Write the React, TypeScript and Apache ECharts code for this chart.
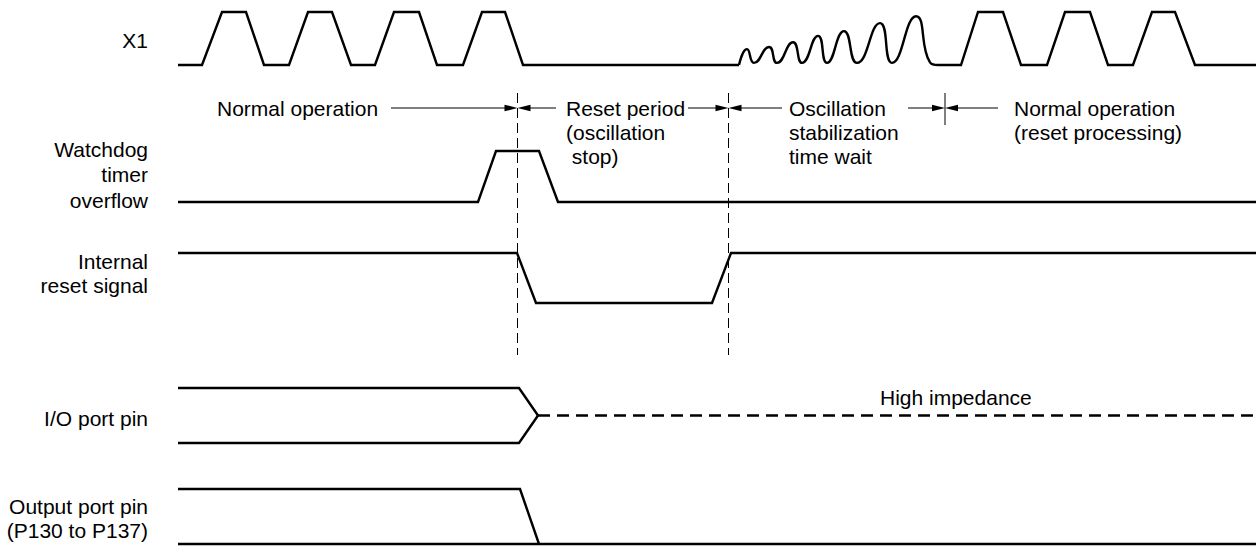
import React, { useEffect, useRef } from "react";
import * as echarts from "echarts";

// ---------- data (time units along the horizontal axis, logic levels 0..1) ----------
const timeMin = 0;
const timeMax = 1256;

// X1 clock: before the reset, the oscillation start-up, and after stabilization
const x1BeforeT = [178, 202, 222, 246, 264, 289, 308, 332, 351, 375, 394, 419, 437, 463, 482, 505, 523, 739];
const x1BeforeL = [0, 0, 1, 1, 0, 0, 1, 1, 0, 0, 1, 1, 0, 0, 1, 1, 0, 0];
const x1OscT = [739, 747, 754, 769, 777, 793, 802, 818, 827, 844, 857, 880, 892, 916, 930, 938];
const x1OscL = [0, 0.3, 0.04, 0.34, 0.04, 0.43, 0.04, 0.55, 0.04, 0.64, 0.04, 0.79, 0.04, 0.92, 0.05, 0];
const x1AfterT = [938, 961, 978, 1003, 1021, 1047, 1065, 1090, 1108, 1133, 1152, 1175, 1195, 1256];
const x1AfterL = [0, 0, 1, 1, 0, 0, 1, 1, 0, 0, 1, 1, 0, 0];

// Watchdog timer overflow
const wdtT = [178, 478, 496, 539, 558, 1256];
const wdtL = [0, 0, 1, 1, 0, 0];

// Internal reset signal
const rstT = [178, 517, 536, 712, 731, 1256];
const rstL = [1, 1, 0, 0, 1, 1];

// I/O port pin (two rails converging into high impedance)
const ioUpperT = [178, 519, 538];
const ioUpperL = [1, 1, 0.5];
const ioLowerT = [178, 519, 538];
const ioLowerL = [0, 0, 0.5];
const ioHighZT = [538, 1256];
const ioHighZL = [0.5, 0.5];

// Output port pin
const outHighT = [178, 520, 539];
const outHighL = [1, 1, 0];
const outLowT = [178, 1256];
const outLowL = [0, 0];

// phase boundaries and arrows
const boundaryT = [517.5, 728.5];
const stepMarkT = [945];
const arrowFromT = [391, 556, 688, 782, 908, 998];
const arrowToT = [517.5, 517.5, 728.5, 728.5, 945, 945];

// texts
const laneLabels = [
  "X1",
  "Watchdog\ntimer\noverflow",
  "Internal\nreset signal",
  "I/O port pin",
  "Output port pin\n(P130 to P137)",
];
const phaseLabels = [
  "Normal operation",
  "Reset period\n(oscillation\n stop)",
  "Oscillation\nstabilization\ntime wait",
  "Normal operation\n(reset processing)",
];
const highZLabel = "High impedance";

// ---------- layout ----------
const W = 1256;
const H = 548;
const lanes = [
  { top: 12, height: 53 },
  { top: 151, height: 51 },
  { top: 253, height: 50 },
  { top: 388, height: 55 },
  { top: 489, height: 55 },
];
const laneLabelX = 148;
const laneLabelY = [40, 174.5, 273, 418, 518];
const laneLabelLH = [24, 25.5, 24, 24, 24];
const phaseLabelX = [217, 566, 789, 1014];
const phaseFirstLineY = 108;
const arrowY = 108;
const boundaryTop = 93;
const boundaryBottom = 355;
const stepMarkTop = 93;
const stepMarkBottom = 125;
const highZX = 880;
const highZY = 397;

const INK = "#000";
const FONT = "'Liberation Sans', Arial, Helvetica, sans-serif";
const WAVE_W = 2.4;

const zip = (t: number[], l: number[]) => t.map((v, i) => [v, l[i]]);

export default function App() {
  const ref = useRef<HTMLDivElement>(null);

  useEffect(() => {
    if (!ref.current) return;
    const chart = echarts.init(ref.current, undefined, { renderer: "svg", width: W, height: H });

    const grids: any[] = lanes.map((g) => ({
      left: 0,
      width: W,
      top: g.top,
      height: g.height,
      containLabel: false,
      outerBoundsMode: "none",
    }));
    grids.push({ left: 0, width: W, top: 0, height: H, containLabel: false, outerBoundsMode: "none" });

    const xAxes = grids.map((_, i) => ({
      type: "value",
      gridIndex: i,
      min: timeMin,
      max: timeMax,
      show: false,
    }));
    const yAxes: any[] = lanes.map((_, i) => ({ type: "value", gridIndex: i, min: 0, max: 1, show: false }));
    yAxes.push({ type: "value", gridIndex: 5, min: 0, max: H, inverse: true, show: false });

    const wave = (lane: number, data: number[][], extra: any = {}) => ({
      type: "line",
      xAxisIndex: lane,
      yAxisIndex: lane,
      data,
      showSymbol: false,
      symbol: "none",
      clip: false,
      silent: true,
      lineStyle: { color: INK, width: WAVE_W, join: "miter", cap: "butt" },
      ...extra,
    });

    const series: any[] = [
      wave(0, zip(x1BeforeT, x1BeforeL)),
      wave(0, zip(x1OscT, x1OscL), { smooth: 0.55, lineStyle: { color: INK, width: WAVE_W } }),
      wave(0, zip(x1AfterT, x1AfterL)),
      wave(1, zip(wdtT, wdtL)),
      wave(2, zip(rstT, rstL)),
      wave(3, zip(ioUpperT, ioUpperL)),
      wave(3, zip(ioLowerT, ioLowerL)),
      wave(3, zip(ioHighZT, ioHighZL), {
        lineStyle: { color: INK, width: WAVE_W, type: [12, 7] },
      }),
      wave(4, zip(outHighT, outHighL)),
      wave(4, zip(outLowT, outLowL)),
    ];

    boundaryT.forEach((t) => {
      series.push({
        type: "line",
        xAxisIndex: 5,
        yAxisIndex: 5,
        data: [
          [t, boundaryTop],
          [t, boundaryBottom],
        ],
        showSymbol: false,
        symbol: "none",
        clip: false,
        silent: true,
        lineStyle: { color: INK, width: 1, type: [10, 5] },
      });
    });
    stepMarkT.forEach((t) => {
      series.push({
        type: "line",
        xAxisIndex: 5,
        yAxisIndex: 5,
        data: [
          [t, stepMarkTop],
          [t, stepMarkBottom],
        ],
        showSymbol: false,
        symbol: "none",
        clip: false,
        silent: true,
        lineStyle: { color: INK, width: 1 },
      });
    });

    series.push({
      type: "custom",
      xAxisIndex: 5,
      yAxisIndex: 5,
      clip: false,
      silent: true,
      encode: { x: [0, 1], y: 2 },
      data: arrowFromT.map((f, i) => [f, arrowToT[i], arrowY]),
      renderItem: (_params: any, api: any) => {
        const from = api.coord([api.value(0), api.value(2)]);
        const to = api.coord([api.value(1), api.value(2)]);
        const dir = Math.sign(to[0] - from[0]) || 1;
        const L = 13;
        const hw = 3.3;
        return {
          type: "group",
          children: [
            {
              type: "line",
              shape: { x1: from[0], y1: from[1], x2: to[0] - dir * L * 0.6, y2: to[1] },
              style: { stroke: INK, lineWidth: 1 },
            },
            {
              type: "polygon",
              shape: {
                points: [
                  [to[0], to[1]],
                  [to[0] - dir * L, to[1] - hw],
                  [to[0] - dir * L, to[1] + hw],
                ],
              },
              style: { fill: INK },
            },
          ],
        };
      },
    });

    const graphics: any[] = [];
    laneLabels.forEach((txt, i) => {
      graphics.push({
        type: "text",
        x: laneLabelX,
        y: laneLabelY[i],
        silent: true,
        style: {
          text: txt,
          fill: INK,
          fontSize: 21,
          fontFamily: FONT,
          lineHeight: laneLabelLH[i],
          textAlign: "right",
          textVerticalAlign: "middle",
        },
      });
    });
    phaseLabels.forEach((txt, i) => {
      graphics.push({
        type: "text",
        x: phaseLabelX[i],
        y: phaseFirstLineY - 12,
        silent: true,
        style: {
          text: txt,
          fill: INK,
          fontSize: 21,
          fontFamily: FONT,
          lineHeight: 24,
          textAlign: "left",
          textVerticalAlign: "top",
        },
      });
    });
    graphics.push({
      type: "text",
      x: highZX,
      y: highZY,
      silent: true,
      style: {
        text: highZLabel,
        fill: INK,
        fontSize: 21,
        fontFamily: FONT,
        textAlign: "left",
        textVerticalAlign: "middle",
      },
    });

    chart.setOption({
      animation: false,
      backgroundColor: "#fff",
      grid: grids,
      xAxis: xAxes,
      yAxis: yAxes,
      series,
      graphic: graphics,
    });

    return () => chart.dispose();
  }, []);

  return (
    <div
      ref={ref}
      style={{ position: "absolute", left: 0, top: 0, width: W, height: H, background: "#fff" }}
    />
  );
}
